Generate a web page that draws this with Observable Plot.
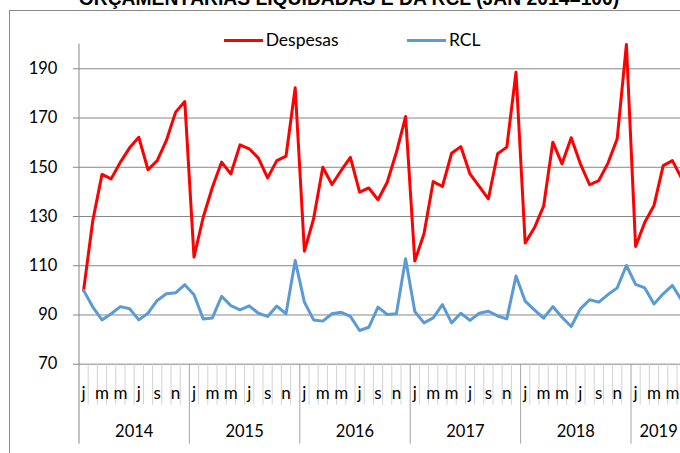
<!DOCTYPE html>
<html>
<head>
<meta charset="utf-8">
<script src="https://cdn.jsdelivr.net/npm/d3@7"></script>
<script src="https://cdn.jsdelivr.net/npm/@observablehq/plot@0.6"></script>
<style>
html, body { margin: 0; padding: 0; width: 680px; height: 453px; overflow: hidden; background: #fff; }
#wrap { position: relative; width: 680px; height: 453px; overflow: hidden; }
#title { position: absolute; left: 0; width: 698px; text-align: center; top: -11px;
  font: bold 19.3px "Liberation Sans", Arial, sans-serif; line-height: 19.3px; white-space: nowrap; color: #000; }
#frame { position: absolute; left: 9px; top: 10px; width: 1000px; height: 1000px; border: 1px solid #8a8a8a; z-index: 3; pointer-events: none; }
#chart { position: absolute; left: 0; top: 0; width: 690px; height: 453px; z-index: 1; }
#chart svg { max-width: none !important; width: 690px; height: 453px; display: block; }
.sw { position: absolute; height: 3px; z-index: 2; }
.lt { position: absolute; font-family: Lato, "Open Sans", sans-serif; font-size: 17.5px; line-height: 20px; color: #000; z-index: 2; white-space: nowrap; }
</style>
</head>
<body>
<div id="wrap">
  <div id="title">ORÇAMENTÁRIAS LIQUIDADAS E DA RCL (JAN 2014=100)</div>
  <div id="frame"></div>
  <div id="chart"></div>
</div>
<script>
// ---- data ----
const meses = ["j","f","m","a","m","j","j","a","s","o","n","d"];
const anos = ["2014","2015","2016","2017","2018","2019"];
const series = ["Despesas","RCL"];
const cores = ["#ff0000","#5b9bd5"];
const yTicks = [70, 90, 110, 130, 150, 170, 190];

const despesas = [
  100, 128.4, 147.1, 145.3, 152.1, 157.9, 162.2, 149, 152.7, 160.9, 172.4, 176.7,
  113.5, 129.7, 141.9, 152.1, 147.3, 159.1, 157.5, 153.7, 145.7, 152.7, 154.5, 182.3,
  115.9, 129.1, 150, 143, 148.7, 154, 139.9, 141.6, 136.8, 143.9, 156.1, 170.6,
  111.9, 123, 144.2, 142.2, 155.7, 158.4, 147.3, 142.2, 137.2, 155.5, 158.2, 188.6,
  119.2, 125.4, 134.2, 160.2, 151.4, 162, 151.4, 142.9, 144.6, 151.7, 161.6, 199.9,
  117.8, 127.7, 134.5, 150.7, 152.7, 145.5
];
const rcl = [
  100, 93.2, 88, 90.5, 93.4, 92.5, 88, 90.7, 95.9, 98.6, 99, 102.3,
  98.2, 88.4, 88.8, 97.6, 93.8, 92.1, 93.7, 90.7, 89.4, 93.6, 90.5, 112.1,
  95.2, 88, 87.5, 90.5, 91.1, 89.4, 83.7, 85, 93.2, 90.2, 90.5, 112.8,
  91.4, 86.8, 88.8, 94.2, 86.8, 90.7, 87.8, 90.7, 91.5, 89.6, 88.4, 105.8,
  95.6, 92.1, 88.7, 93.4, 89.1, 85.3, 92.5, 96.2, 95.2, 98.3, 101, 110.1,
  102.4, 101, 94.5, 98.6, 102, 96
];

// ---- derived tables ----
const n = despesas.length;
const linhas = [];
despesas.forEach((v, i) => linhas.push({i, v, s: series[0]}));
rcl.forEach((v, i) => linhas.push({i, v, s: series[1]}));

const limites = d3.range(n + 1).map(k => k - 0.5);
const limMes = limites.filter((_, k) => k % 12 !== 0);
const limAno = limites.filter((_, k) => k % 12 === 0 && k > 0 && k < n);
const rotMes = d3.range(n).filter(i => i % 2 === 0).map(i => ({i, t: meses[i % 12]}));
const rotAno = anos.map((a, j) => ({a, c: (j * 12 + Math.min(j * 12 + 11, n - 1)) / 2}));

const font = "Lato, 'Open Sans', sans-serif";

const chart = Plot.plot({
  width: 690,
  height: 453,
  marginTop: 43.7,
  marginBottom: 89.3,
  marginLeft: 78.5,
  marginRight: 4.3,
  style: {background: "transparent", color: "#000", fontFamily: font, overflow: "visible", maxWidth: "none"},
  x: {type: "linear", domain: [-0.5, n - 0.5], axis: null},
  y: {domain: [70, 200], axis: null},
  color: {domain: series, range: cores},
  marks: [
    Plot.gridY(yTicks, {stroke: "#868686", strokeOpacity: 1}),
    Plot.ruleX(limMes, {y1: 70, y2: 70, insetBottom: -41, stroke: "#d2d2d2"}),
    Plot.ruleX(limAno, {y1: 70, y2: 70, insetBottom: -80, stroke: "#a6a6a6"}),
    Plot.ruleX([-0.5], {insetBottom: -80, stroke: "#868686"}),
    Plot.axisY({ticks: yTicks, tickSize: 5.6, tickPadding: 16, fontSize: 16.5, stroke: "#868686", label: null, fill: "#000"}),
    Plot.text(rotMes, {x: "i", y: 70, text: "t", dy: 29, fontSize: 17, fill: "#000"}),
    Plot.text(rotAno, {x: "c", y: 70, text: "a", dy: 68, fontSize: 16.5, fill: "#000"}),
    Plot.line(linhas, {x: "i", y: "v", z: "s", stroke: "s", strokeWidth: 3})
  ]
});
document.getElementById("chart").appendChild(chart);

// ---- legend ----
const wrap = document.getElementById("wrap");
const legPos = [{sw: 224, tx: 265.7}, {sw: 407.3, tx: 449}];
series.forEach((s, k) => {
  const sw = document.createElement("div");
  sw.className = "sw";
  sw.style.left = legPos[k].sw + "px";
  sw.style.top = "39.3px";
  sw.style.width = "38.5px";
  sw.style.background = cores[k];
  wrap.appendChild(sw);
  const t = document.createElement("div");
  t.className = "lt";
  t.style.left = legPos[k].tx + "px";
  t.style.top = "30px";
  t.textContent = s;
  wrap.appendChild(t);
});
</script>
</body>
</html>
